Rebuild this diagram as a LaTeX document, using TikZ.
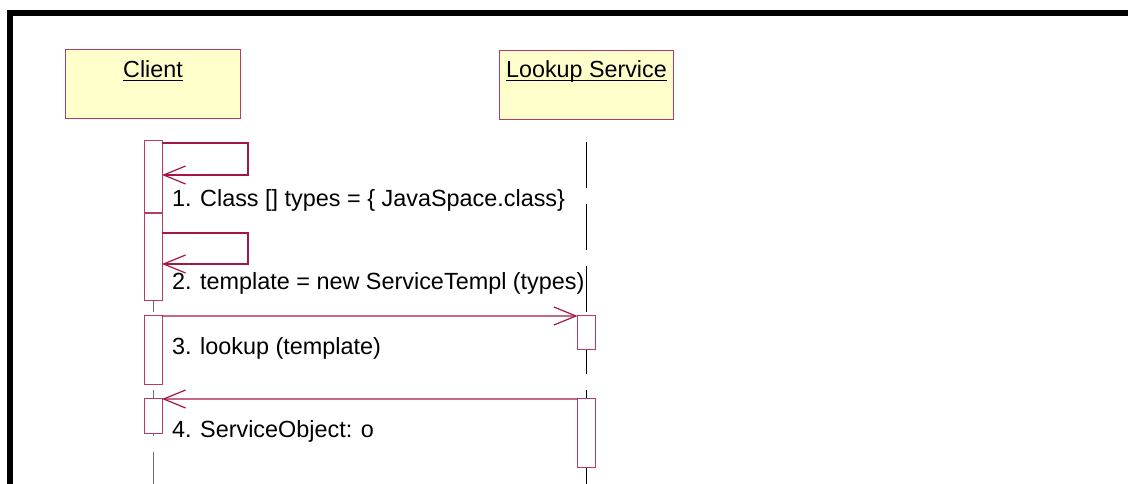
\documentclass[tikz,border=0pt]{standalone}
\usepackage{fontspec}
\setmainfont{Liberation Sans}
\usetikzlibrary{arrows.meta}
\definecolor{boxborder}{RGB}{182,60,104}
\definecolor{msgcol}{RGB}{165,22,72}
\definecolor{headfill}{RGB}{255,255,204}
\definecolor{lifegray}{RGB}{110,110,110}
\begin{document}
\begin{tikzpicture}[x=1bp,y=-1bp,
  head/.style={draw=boxborder, fill=headfill, line width=1bp, inner sep=0pt, outer sep=0pt,
               minimum width=174bp, minimum height=69bp},
  act/.style={draw=boxborder, fill=white, line width=1bp, inner sep=0pt, outer sep=0pt,
              minimum width=18bp},
  ttl/.style={inner sep=0pt, outer sep=0pt, anchor=base, font=\fontsize{23.3bp}{27bp}\selectfont},
  msglbl/.style={inner sep=0pt, outer sep=0pt, anchor=base west, font=\fontsize{23.4bp}{27bp}\selectfont},
  lifeline/.style={line width=1bp, dash pattern=on 46bp off 16bp},
  msg/.style={draw=msgcol, line width=1.2bp, -{Straight Barb[length=22bp,width=18bp]}}
]
\useasboundingbox (0,0) rectangle (1128,484);
\clip (0,0) rectangle (1128,484);
% frame
\draw[line width=6bp] (10,500) -- (10,13) -- (1140,13);
% heads
\node[head] (client) at (153,84.5) {};
\node[head] (lookup) at (586.5,85) {};
\node[ttl] (clientlbl) at (153,78) {Client};
\node[ttl] (lookuplbl) at (586.5,78) {Lookup Service};
\draw[line width=1.5bp] ([yshift=-2.6bp]clientlbl.base west) -- ([yshift=-2.6bp]clientlbl.base east);
\draw[line width=1.5bp] ([yshift=-2.6bp]lookuplbl.base west) -- ([yshift=-2.6bp]lookuplbl.base east);
% lifelines
\draw[lifeline, draw=lifegray] (client.south |- 0,142) -- (client.south |- 0,500);
\draw[lifeline, draw=black] (586,142) -- (586,500);
% activations
\node[act, minimum height=72bp] (a1) at (153,177) {};
\node[act, minimum height=87bp] (a2) at (153,257.5) {};
\node[act, minimum height=68bp] (a3) at (153,350) {};
\node[act, minimum height=34bp] (a4) at (153,416) {};
\node[act, minimum height=34bp] (l3) at (586.5,333) {};
\node[act, minimum height=68bp] (l4) at (586.5,433) {};
% messages
\draw[msg] (a1.east |- 0,143) -- (248,143) -- (248,175) -- (a1.east |- 0,175);
\draw[msg] (a2.east |- 0,233) -- (248,233) -- (248,264) -- (a2.east |- 0,264);
\draw[msg] (a3.north east) -- (l3.north west);
\draw[msg] (l4.north west) -- (a4.north east);
% labels
\node[msglbl] (m1) at (172,207) {1. Class [] types = \{ JavaSpace.class\}};
\node[msglbl] (m2) at (172,290) {2. template = new ServiceTempl (types)};
\node[msglbl] (m3) at (172,355) {3. lookup (template)};
\node[msglbl] (m4) at (172,437.5) {4. ServiceObject: o};
\end{tikzpicture}
\end{document}
